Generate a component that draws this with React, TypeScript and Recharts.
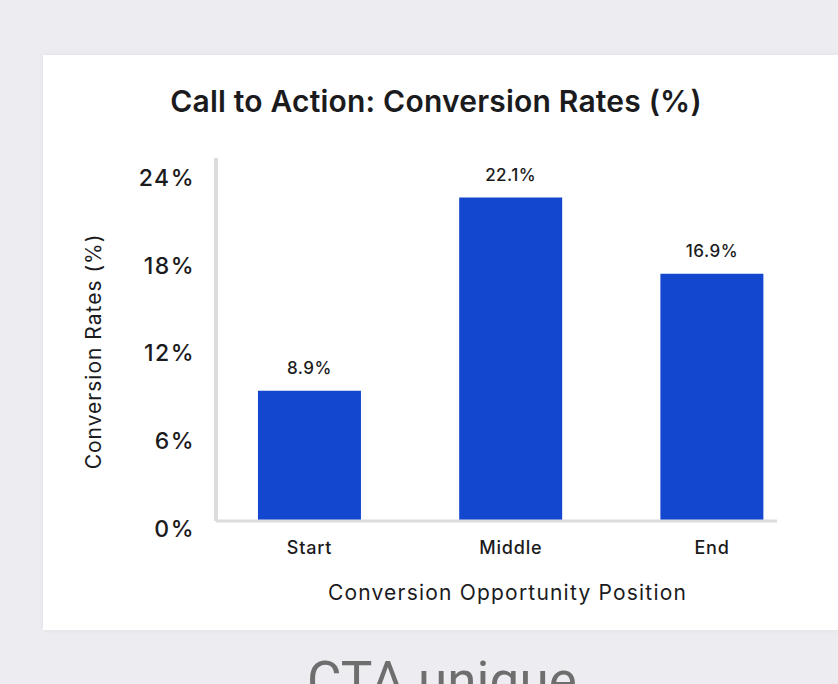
import React from "react";
import { BarChart, Bar, XAxis, YAxis, LabelList, Label } from "recharts";

const categories = ["Start", "Middle", "End"];
const rates = [8.9, 22.1, 16.9];
const yTicks = [0, 6, 12, 18, 24];
const xTicks = [0, 1, 2];

const data = categories.map((name, i) => ({ name, pos: i, rate: rates[i] }));

const FONT = "Inter, 'Noto Sans', sans-serif";
const INK = "#1b1b1d";
const BAR = "#1447d0";
const AXIS = "#dcdcdf";

const YTick = (props: any) => {
  const { x, y, payload } = props;
  return (
    <text x={x} y={y} dy={8} textAnchor="end" dominantBaseline="central" fontFamily={FONT} fontSize={23} fontWeight={500} letterSpacing={1.5} fill={INK}>
      {payload.value}%
    </text>
  );
};

const XTick = (props: any) => {
  const { x, y, payload } = props;
  return (
    <text x={x} y={y} dy={33} textAnchor="middle" fontFamily={FONT} fontSize={18} fontWeight={500} letterSpacing={0.8} fill={INK}>
      {categories[payload.value]}
    </text>
  );
};

const YLabel = (props: any) => {
  const vb = props.viewBox;
  const cx = vb.x + 50;
  const cy = vb.y + vb.height / 2 + 12;
  return (
    <text x={cx} y={cy} transform={`rotate(-90 ${cx} ${cy})`} textAnchor="middle" dominantBaseline="central" fontFamily={FONT} fontSize={21} letterSpacing={1} fill={INK}>
      Conversion Rates (%)
    </text>
  );
};

const XLabel = (props: any) => {
  const vb = props.viewBox;
  return (
    <text x={vb.x + vb.width / 2 + 11} y={vb.y + 79} textAnchor="middle" fontFamily={FONT} fontSize={21} letterSpacing={1.2} fill={INK}>
      Conversion Opportunity Position
    </text>
  );
};

export default function App() {
  return (
    <div style={{ position: "fixed", left: 0, top: 0, width: 838, height: 684, background: "#ececf1", overflow: "hidden" }}>
      <div style={{ position: "absolute", left: 43, top: 55, width: 795, height: 575, background: "#ffffff", boxShadow: "0 0 6px rgba(0,0,0,0.06)" }}>
        <div style={{ position: "absolute", left: 0, top: 27, width: 786, textAlign: "center", fontFamily: FONT, fontSize: 30, fontWeight: 600, color: INK, letterSpacing: 0.2, lineHeight: "38px" }}>
          Call to Action: Conversion Rates (%)
        </div>
        <BarChart width={795} height={575} data={data} margin={{ top: 103, right: 61, bottom: 49, left: 0 }}>
          <YAxis
            type="number"
            domain={[0, 24.8]}
            ticks={yTicks}
            width={173}
            tickSize={0}
            tickMargin={21}
            tick={<YTick />}
            axisLine={{ stroke: AXIS, strokeWidth: 4 }}
            tickLine={false}
            interval={0}
          >
            <Label content={<YLabel />} />
          </YAxis>
          <XAxis
            type="number"
            dataKey="pos"
            domain={[-0.465, 2.323]}
            ticks={xTicks}
            height={60}
            tickSize={0}
            tickMargin={0}
            tick={<XTick />}
            axisLine={{ stroke: AXIS, strokeWidth: 3 }}
            tickLine={false}
            interval={0}
            allowDataOverflow
          >
            <Label content={<XLabel />} />
          </XAxis>
          <Bar dataKey="rate" fill={BAR} barSize={103} isAnimationActive={false}>
            <LabelList
              dataKey="rate"
              position="top"
              offset={17}
              formatter={(v: any) => `${v}%`}
              style={{ fontFamily: FONT, fontSize: 17, fontWeight: 500, letterSpacing: 0.5, fill: INK }}
            />
          </Bar>
        </BarChart>
      </div>
      <div style={{ position: "absolute", left: 0, top: 655, width: 884, textAlign: "center", fontFamily: "Roboto, sans-serif", fontSize: 53, color: "#6e6e6e", lineHeight: "53px", whiteSpace: "nowrap" }}>
        CTA unique
      </div>
    </div>
  );
}
